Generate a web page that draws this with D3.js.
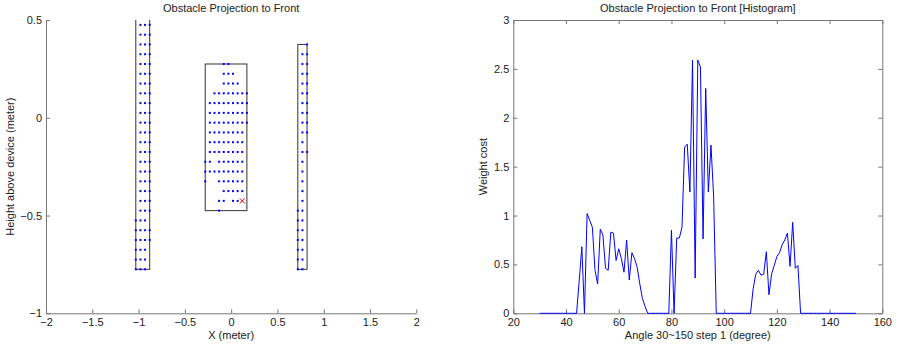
<!DOCTYPE html>
<html>
<head>
<meta charset="utf-8">
<script src="https://cdn.jsdelivr.net/npm/d3@7"></script>
<style>
  html, body { margin: 0; padding: 0; background: #fff; }
  svg { display: block; }
  text { font-family: "Liberation Sans", Arial, Helvetica, sans-serif; fill: #222; }
</style>
</head>
<body>
<svg id="chart" width="902" height="347"></svg>
<script>
// ---------------- DATA ----------------
// Left panel: tick values
const leftXTicks = [-2, -1.5, -1, -0.5, 0, 0.5, 1, 1.5, 2];
const leftYTicks = [-1, -0.5, 0, 0.5];

// Obstacle bounding boxes [xMin, xMax, yMin, yMax] (meter)
const obstacleBoxes = [
  [-1.03, -0.88, -0.775, 0.525],
  [-0.28, 0.17, -0.475, 0.275],
  [0.72, 0.82, -0.775, 0.375]
];

// Obstacle points: each row = [height, [x positions]]
const obstacle1Rows = [
  [0.475, [-0.98, -0.93, -0.88]], [0.425, [-0.98, -0.93, -0.88]],
  [0.375, [-0.98, -0.93, -0.88]], [0.325, [-0.98, -0.93, -0.88]],
  [0.275, [-0.98, -0.93, -0.88]], [0.225, [-0.98, -0.93, -0.88]],
  [0.175, [-0.98, -0.93, -0.88]], [0.125, [-0.98, -0.93, -0.88]],
  [0.075, [-0.98, -0.93, -0.88]], [0.025, [-0.98, -0.93, -0.88]],
  [-0.025, [-0.98, -0.93, -0.88]], [-0.075, [-0.98, -0.93, -0.88]],
  [-0.125, [-0.98, -0.93, -0.88]], [-0.175, [-0.98, -0.93, -0.88]],
  [-0.225, [-0.98, -0.93, -0.88]], [-0.275, [-0.98, -0.93, -0.88]],
  [-0.325, [-0.98, -0.93, -0.88]], [-0.375, [-0.98, -0.93, -0.88]],
  [-0.425, [-0.98, -0.93, -0.88]], [-0.475, [-0.98, -0.93, -0.88]],
  [-0.525, [-1.03, -0.98, -0.93]],
  [-0.575, [-1.03, -0.98, -0.93, -0.88]],
  [-0.625, [-1.03, -0.98, -0.93, -0.88]],
  [-0.675, [-1.03, -0.98, -0.93]],
  [-0.725, [-1.03, -0.98, -0.93]],
  [-0.775, [-1.03, -0.98, -0.93]]
];
const obstacle2Rows = [
  [0.275, [-0.08, -0.03]],
  [0.225, [-0.08, -0.03, 0.02]],
  [0.175, [-0.08, -0.03, 0.02, 0.07]],
  [0.125, [-0.18, -0.13, -0.08, -0.03, 0.02, 0.07, 0.12, 0.17]],
  [0.075, [-0.23, -0.18, -0.13, -0.08, -0.03, 0.02, 0.07, 0.12, 0.17]],
  [0.025, [-0.23, -0.18, -0.13, -0.08, -0.03, 0.02, 0.07, 0.12, 0.17]],
  [-0.025, [-0.23, -0.18, -0.13, -0.08, -0.03, 0.02, 0.07, 0.12, 0.17]],
  [-0.075, [-0.23, -0.18, -0.13, -0.08, -0.03, 0.02, 0.07, 0.12]],
  [-0.125, [-0.23, -0.18, -0.13, -0.08, -0.03, 0.02, 0.07, 0.12]],
  [-0.175, [-0.23, -0.18, -0.13, -0.08, -0.03, 0.02, 0.07, 0.12]],
  [-0.225, [-0.28, -0.23, -0.13, -0.08, -0.03, 0.02, 0.07, 0.12]],
  [-0.275, [-0.28, -0.23, -0.18, -0.13, -0.08, -0.03, 0.02, 0.07, 0.12]],
  [-0.325, [-0.28, -0.13, -0.08, -0.03, 0.02, 0.07, 0.12]],
  [-0.375, [-0.08, -0.03, 0.02, 0.07, 0.12]],
  [-0.425, [-0.13, -0.08, 0.02, 0.07]],
  [-0.475, [-0.13]]
];
const obstacle3Rows = [
  [0.375, [0.82]],
  [0.325, [0.77, 0.82]], [0.275, [0.77, 0.82]], [0.225, [0.77, 0.82]],
  [0.175, [0.77, 0.82]], [0.125, [0.77, 0.82]], [0.075, [0.77, 0.82]],
  [0.025, [0.77, 0.82]], [-0.025, [0.77, 0.82]], [-0.075, [0.77, 0.82]],
  [-0.125, [0.77]],
  [-0.175, [0.77, 0.82]],
  [-0.225, [0.77]], [-0.275, [0.77]], [-0.325, [0.77]], [-0.375, [0.77]], [-0.425, [0.77]],
  [-0.475, [0.72, 0.77]], [-0.525, [0.72, 0.77]], [-0.575, [0.72, 0.77]],
  [-0.625, [0.72, 0.77]], [-0.675, [0.72, 0.77]], [-0.725, [0.72, 0.77]],
  [-0.775, [0.72, 0.77]]
];
// Target marker (red x)
const targetPoint = [0.12, -0.425];

// Right panel: histogram
const rightXTicks = [20, 40, 60, 80, 100, 120, 140, 160];
const rightYTicks = [0, 0.5, 1, 1.5, 2, 2.5, 3];
const angleStart = 30, angleEnd = 150;   // "Angle 30~150 step 1"
const weights = [
  // 30..44
  0, 0, 0, 0, 0, 0, 0, 0, 0, 0, 0, 0, 0, 0, 0,
  // 45..70
  0.33, 0.68, 0, 1.02, 0.95, 0.88, 0.44, 0.30, 0.86, 0.80, 0.46, 0.44, 0.83,
  0.82, 0.54, 0.66, 0.56, 0.42, 0.75, 0.34, 0.62, 0.56, 0.47, 0.30, 0.15, 0.07,
  // 71..79
  0, 0, 0, 0, 0, 0, 0, 0, 0,
  // 80..96
  0.85, 0, 0.77, 0.77, 0.88, 1.70, 1.73, 1.24, 2.59, 0.36, 2.59, 2.52, 0.76,
  2.30, 1.24, 1.72, 1.20,
  // 97..110
  0, 0, 0, 0, 0, 0, 0, 0, 0, 0, 0, 0, 0, 0,
  // 111..128
  0.25, 0.40, 0.44, 0.39, 0.40, 0.63, 0.19, 0.40, 0.49, 0.58, 0.62, 0.70,
  0.75, 0.82, 0.48, 0.93, 0.46, 0.49,
  // 129..150
  0, 0, 0, 0, 0, 0, 0, 0, 0, 0, 0, 0, 0, 0, 0, 0, 0, 0, 0, 0, 0, 0
];
const angles = d3.range(angleStart, angleEnd + 1);

// ---------------- DRAWING ----------------
const svg = d3.select("#chart");
const axisColor = "#777";
const fmt = d => d3.format("~g")(d);
const TICK = 4;

function styleAxis(g) {
  g.selectAll(".domain").attr("stroke", axisColor);
  g.selectAll(".tick line").attr("stroke", axisColor);
  g.selectAll(".tick text").attr("fill", "#222").style("font-size", "11px")
    .style("font-family", '"Liberation Sans", Arial, sans-serif');
}

// ---- Left panel ----
const L = { x0: 46, x1: 416.3, y0: 20, y1: 313.3 };
const lx = d3.scaleLinear().domain([-2, 2]).range([L.x0, L.x1]);
const ly = d3.scaleLinear().domain([-1, 0.5]).range([L.y1, L.y0]);

svg.append("defs").append("clipPath").attr("id", "clipL")
  .append("rect").attr("x", L.x0).attr("y", L.y0)
  .attr("width", L.x1 - L.x0).attr("height", L.y1 - L.y0);

svg.append("g").attr("transform", `translate(0,${L.y1})`)
  .call(d3.axisBottom(lx).tickValues(leftXTicks).tickFormat(fmt)
    .tickSizeInner(-TICK).tickSizeOuter(0).tickPadding(5))
  .call(styleAxis);
svg.append("g").attr("transform", `translate(${L.x0},0)`)
  .call(d3.axisLeft(ly).tickValues(leftYTicks).tickFormat(fmt)
    .tickSizeInner(-TICK).tickSizeOuter(0).tickPadding(4))
  .call(styleAxis);

const plotL = svg.append("g").attr("clip-path", "url(#clipL)");
plotL.selectAll("rect.box").data(obstacleBoxes).join("rect")
  .attr("class", "box")
  .attr("x", d => lx(d[0])).attr("y", d => ly(d[3]))
  .attr("width", d => lx(d[1]) - lx(d[0]))
  .attr("height", d => ly(d[2]) - ly(d[3]))
  .attr("fill", "none").attr("stroke", "#333").attr("stroke-width", 1);

const allPoints = [];
[obstacle1Rows, obstacle2Rows, obstacle3Rows].forEach(rows =>
  rows.forEach(([y, xs]) => xs.forEach(x => allPoints.push([x, y]))));

plotL.selectAll("rect.pt").data(allPoints).join("rect")
  .attr("class", "pt")
  .attr("x", d => lx(d[0]) - 1).attr("y", d => ly(d[1]) - 1)
  .attr("width", 2).attr("height", 2)
  .attr("fill", "#0000ff");

const tx = lx(targetPoint[0]), ty = ly(targetPoint[1]), s = 2.5;
plotL.append("path")
  .attr("d", `M${tx - s},${ty - s}L${tx + s},${ty + s}M${tx - s},${ty + s}L${tx + s},${ty - s}`)
  .attr("stroke", "#ff0000").attr("stroke-width", 1).attr("fill", "none");

svg.append("text").attr("x", (L.x0 + L.x1) / 2).attr("y", 12)
  .attr("text-anchor", "middle").style("font-size", "11px")
  .text("Obstacle Projection to Front");
svg.append("text").attr("x", (L.x0 + L.x1) / 2).attr("y", 339)
  .attr("text-anchor", "middle").style("font-size", "11px")
  .text("X (meter)");
svg.append("text")
  .attr("transform", `translate(14,${(L.y0 + L.y1) / 2}) rotate(-90)`)
  .attr("text-anchor", "middle").style("font-size", "11px")
  .text("Height above device (meter)");

// ---- Right panel ----
const R = { x0: 513.3, x1: 882.3, y0: 20, y1: 313.3 };
const rx = d3.scaleLinear().domain([20, 160]).range([R.x0, R.x1]);
const ry = d3.scaleLinear().domain([0, 3]).range([R.y1, R.y0]);

svg.append("g").attr("transform", `translate(0,${R.y1})`)
  .call(d3.axisBottom(rx).tickValues(rightXTicks).tickFormat(fmt)
    .tickSizeInner(-TICK).tickSizeOuter(0).tickPadding(5))
  .call(styleAxis);
svg.append("g").attr("transform", `translate(0,${R.y0})`)
  .call(d3.axisTop(rx).tickValues(rightXTicks).tickFormat("")
    .tickSizeInner(-TICK).tickSizeOuter(0))
  .call(styleAxis);
svg.append("g").attr("transform", `translate(${R.x0},0)`)
  .call(d3.axisLeft(ry).tickValues(rightYTicks).tickFormat(fmt)
    .tickSizeInner(-TICK).tickSizeOuter(0).tickPadding(4))
  .call(styleAxis);
svg.append("g").attr("transform", `translate(${R.x1},0)`)
  .call(d3.axisRight(ry).tickValues(rightYTicks).tickFormat("")
    .tickSizeInner(-TICK).tickSizeOuter(0))
  .call(styleAxis);

const line = d3.line().x((d, i) => rx(angles[i])).y(d => ry(d));
svg.append("path").datum(weights)
  .attr("d", line)
  .attr("fill", "none").attr("stroke", "#0000ff").attr("stroke-width", 1);

svg.append("text").attr("x", (R.x0 + R.x1) / 2).attr("y", 12)
  .attr("text-anchor", "middle").style("font-size", "11px")
  .text("Obstacle Projection to Front [Histogram]");
svg.append("text").attr("x", (R.x0 + R.x1) / 2).attr("y", 339)
  .attr("text-anchor", "middle").style("font-size", "11px")
  .text("Angle 30~150 step 1 (degree)");
svg.append("text")
  .attr("transform", `translate(487,${(R.y0 + R.y1) / 2}) rotate(-90)`)
  .attr("text-anchor", "middle").style("font-size", "11px")
  .text("Weight cost");
</script>
</body>
</html>
